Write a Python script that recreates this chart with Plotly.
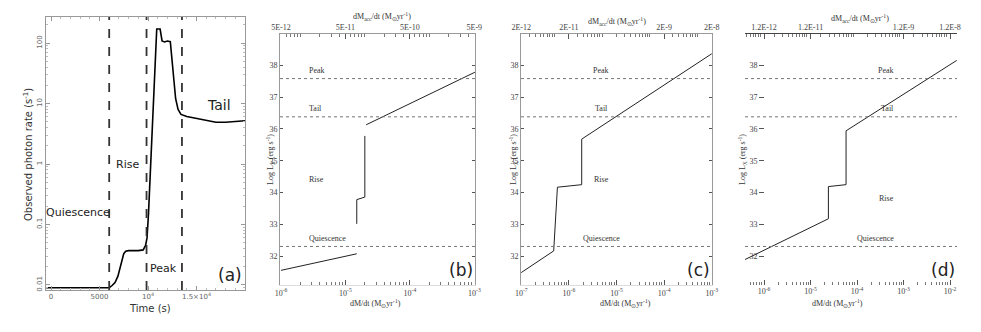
import math
import plotly.graph_objects as go

# ---- panel (a): light curve ----
time_s = [-500, 6000, 6300, 6600, 6900, 7100, 7300, 7500, 7700, 8000, 9000, 9500,
          9750, 9900, 10050, 10200, 10400, 10600, 10750, 10900, 11250, 11450, 11700,
          12000, 12300, 12450, 12650, 12850, 13100, 13400, 14000, 15000, 16000,
          17000, 18000, 19000, 20000]
rate = [0.009, 0.009, 0.0098, 0.011, 0.014, 0.019, 0.026, 0.033, 0.036, 0.037, 0.037,
        0.038, 0.045, 0.06, 0.15, 0.5, 2.5, 15, 60, 170, 170, 108, 104, 108, 105, 60,
        25, 12, 8, 6.6, 6.1, 5.7, 5.2, 4.9, 4.9, 5.1, 5.2]
phase_bounds = [6000, 9850, 13500]
a_xticks = [0, 5000, 10000, 15000]
a_xticktext = ["0", "5000", "10<sup>4</sup>", "1.5×10<sup>4</sup>"]
a_yticks = [0.01, 0.1, 1, 10, 100]
a_yticktext = ["0.01", "0.1", "1", "10", "100"]
# phase labels of panel (a): text, time, rate, font size
a_labels = [("Quiescence", 2780, 0.16, 11), ("Rise", 7840, 1.0, 11),
            ("Peak", 11550, 0.019, 11), ("Tail", 17300, 9.5, 14)]

# ---- panels (b)-(d): L_X vs mass-transfer rate ----
peak_level, tail_level, quies_level = 37.58, 36.38, 32.31
logl_ticks = [32, 33, 34, 35, 36, 37, 38]

b_mdot = [1e-6, 1.5e-5, None, 1.5e-5, 1.5e-5, 2.0e-5, 2.0e-5, None, 2.1e-5, 1.02e-3]
b_logl = [31.56, 32.08, None, 33.02, 33.78, 33.86, 35.78, None, 36.13, 37.78]
b_bottom = ([1e-6, 1e-5, 1e-4, 1e-3], ["10<sup>-6</sup>", "10<sup>-5</sup>", "10<sup>-4</sup>", "10<sup>-3</sup>"])
b_top = ([5e-12, 5e-11, 5e-10, 5e-9], ["5E-12", "5E-11", "5E-10", "5E-9"])

c_mdot = [1e-7, 4.8e-7, 5.75e-7, 1.86e-6, 1.86e-6, 1e-3]
c_logl = [31.49, 32.17, 34.17, 34.25, 35.68, 38.36]
c_bottom = ([1e-7, 1e-6, 1e-5, 1e-4, 1e-3],
            ["10<sup>-7</sup>", "10<sup>-6</sup>", "10<sup>-5</sup>", "10<sup>-4</sup>", "10<sup>-3</sup>"])
c_top = ([2e-12, 2e-11, 2e-9, 2e-8], ["2E-12", "2E-11", "2E-9", "2E-8"])

d_mdot = [3.9e-7, 2.42e-5, 2.42e-5, 5.8e-5, 5.8e-5, 1.39e-2]
d_logl = [31.9, 33.18, 34.19, 34.25, 35.94, 38.15]
d_bottom = ([1e-6, 1e-5, 1e-4, 1e-3, 1e-2],
            ["10<sup>-6</sup>", "10<sup>-5</sup>", "10<sup>-4</sup>", "10<sup>-3</sup>", "10<sup>-2</sup>"])
d_top = ([1.2e-12, 1.2e-11, 1.2e-9, 1.2e-8], ["1.2E-12", "1.2E-11", "1.2E-9", "1.2E-8"])

W, H = 981, 332
SANS = "DejaVu Sans"
SERIF = "Liberation Serif"


def px_x(a, b):
    return [a / W, b / W]


def px_y(top, bot):
    return [1 - bot / H, 1 - top / H]


def label(text, x, y, size, family, rot=0, color="#333"):
    return dict(text=text, x=x / W, y=1 - y / H, xref="paper", yref="paper",
                xanchor="center", yanchor="middle", textangle=rot, showarrow=False,
                font=dict(family=family, size=size, color=color))


fig = go.Figure()

# panel (a)
fig.add_trace(go.Scatter(x=time_s, y=rate, mode="lines", xaxis="x", yaxis="y",
                         line=dict(color="black", width=1.6), showlegend=False))
for xb in phase_bounds:
    fig.add_shape(type="line", xref="x", yref="y domain", x0=xb, x1=xb, y0=0, y1=1,
                  line=dict(color="#333", width=1.8, dash="dash"))

tickfont_a = dict(family=SANS, size=7, color="#666")
fig.update_layout(
    xaxis=dict(domain=px_x(46, 245), anchor="y", range=[-515, 20000], automargin=False,
               tickvals=a_xticks, ticktext=a_xticktext, tickfont=tickfont_a,
               showline=True, linecolor="#999", mirror="ticks", ticks="inside",
               ticklen=4, tickcolor="#999", showgrid=False, zeroline=False,
               minor=dict(ticks="inside", ticklen=2, dtick=1000, tickcolor="#bbb")),
    yaxis=dict(domain=px_y(17, 290), anchor="x", type="log", range=[-2.083, 2.43],
               automargin=False, tickvals=a_yticks, ticktext=a_yticktext,
               tickfont=tickfont_a, tickangle=-90, showline=True, linecolor="#999",
               mirror="ticks", ticks="inside", ticklen=4, tickcolor="#999",
               showgrid=False,
               minor=dict(ticks="inside", ticklen=2, dtick="D1", tickcolor="#bbb")),
)

ann = []
for txt, x, y, size in a_labels:
    ann.append(dict(text=txt, x=x, y=math.log10(y), xref="x", yref="y",
                    showarrow=False, font=dict(family=SANS, size=size, color="#222")))
ann.append(dict(text="(a)", x=0.995, y=0.01, xref="x domain", yref="y domain",
                xanchor="right", yanchor="bottom", showarrow=False,
                font=dict(family=SANS, size=17, color="#222")))
ann.append(label("Observed photon rate (s<sup>-1</sup>)", 28, 155, 10, SANS, rot=-90))
ann.append(label("Time (s)", 150, 308, 10, SANS))

# panels (b), (c), (d)
tickfont_s = dict(family=SERIF, size=8, color="#444")
panels = [
    # label, bottom x, top x, y, px domain, bottom range, top shift, data, ticks,
    # phase-label x, rise y, framed, title positions (y-title x, x-title x, top-title x, top-title y)
    ("(b)", 2, 3, 2, (280, 475), [-6.015, -2.99], -5.301, b_mdot, b_logl, b_bottom, b_top,
     0.14, 34.4, True, (270, 375, 382, 17)),
    ("(c)", 4, 5, 3, (521, 712), [-7.005, -2.995], -4.699, c_mdot, c_logl, c_bottom, c_top,
     0.42, 34.4, True, (513, 625, 617, 21)),
    ("(d)", 6, 7, 4, (745, 957), [-6.41, -1.85], -5.921, d_mdot, d_logl, d_bottom, d_top,
     0.71, 33.8, False, (742, 837, 860, 18)),
]

for (lab, xb, xt, yi, dom, xr, shift, xs, ys, bt, tt, labx, risey, framed, tpos) in panels:
    xbn, xtn, yn = f"x{xb}", f"x{xt}", f"y{yi}"
    fig.add_trace(go.Scatter(x=xs, y=ys, mode="lines", xaxis=xbn, yaxis=yn,
                             line=dict(color="#222", width=1), showlegend=False,
                             connectgaps=False))
    d = px_x(*dom)
    yaxis = dict(domain=px_y(34, 285), range=[31.1, 38.98], tickvals=logl_ticks,
                 automargin=False, tickfont=tickfont_s,
                 ticks="inside" if framed else "outside", ticklen=3 if framed else 5,
                 tickcolor="#555", showgrid=False, zeroline=False, showline=framed,
                 linecolor="#999", mirror="ticks")
    if framed:
        yaxis["anchor"] = xbn
    else:
        yaxis["anchor"] = "free"
        yaxis["position"] = 764 / W
    fig.layout[f"yaxis{yi}"] = yaxis
    fig.layout[f"xaxis{xb}"] = dict(
        domain=d, anchor=yn, type="log", range=xr, tickvals=bt[0], ticktext=bt[1],
        automargin=False, tickfont=tickfont_s, ticks="inside", ticklen=5,
        tickcolor="#555", showline=framed, linecolor="#ddd", showgrid=False,
        zeroline=False,
        minor=dict(ticks="inside", ticklen=3, dtick="D1", tickcolor="#777"))
    fig.layout[f"xaxis{xt}"] = dict(
        domain=d, anchor=yn, overlaying=xbn, side="top", type="log",
        range=[xr[0] + shift, xr[1] + shift], tickvals=tt[0], ticktext=tt[1],
        automargin=False, tickfont=tickfont_s, ticks="inside", ticklen=5,
        tickcolor="#555", showline=True, linecolor="#999" if framed else "#444",
        showgrid=False, zeroline=False,
        minor=dict(ticks="inside", ticklen=3, dtick="D1", tickcolor="#777"))
    fig.add_trace(go.Scatter(x=[None], y=[None], xaxis=xtn, yaxis=yn, showlegend=False,
                             hoverinfo="skip"))

    ytx, xtx, ttx, tty = tpos
    ann.append(label("Log L<sub>X</sub> (erg s<sup>-1</sup>)", ytx, 160, 8, SERIF, rot=-90))
    ann.append(label("dM/dt (M<sub>⊙</sub>yr<sup>-1</sup>)", xtx, 303, 8, SERIF))
    ann.append(label("dM<sub>acc</sub>/dt (M<sub>⊙</sub>yr<sup>-1</sup>)", ttx, tty, 8, SERIF))

    for lvl, name in [(peak_level, "Peak"), (tail_level, "Tail"), (quies_level, "Quiescence")]:
        fig.add_shape(type="line", xref=f"{xbn} domain", yref=yn, x0=0, x1=1, y0=lvl, y1=lvl,
                      line=dict(color="#777", width=1, dash="dot"))
        ann.append(dict(text=name, x=labx, y=lvl, xref=f"{xbn} domain", yref=yn,
                        yshift=8, showarrow=False, font=dict(family=SERIF, size=8, color="#333")))
    ann.append(dict(text="Rise", x=labx, y=risey, xref=f"{xbn} domain", yref=yn,
                    showarrow=False, font=dict(family=SERIF, size=8, color="#333")))
    ann.append(dict(text=lab, x=1.0, y=0.01, xref=f"{xbn} domain", yref=f"{yn} domain",
                    xanchor="right", yanchor="bottom", showarrow=False,
                    font=dict(family=SANS, size=17, color="#222")))

fig.update_layout(
    width=W, height=H, margin=dict(l=0, r=0, t=0, b=0, autoexpand=False),
    paper_bgcolor="white", plot_bgcolor="white", showlegend=False,
    hovermode=False, annotations=ann,
)

# drop the browser's default 8px body margin so the figure sits at the page corner
fig.write_html("out.html", config={"displayModeBar": False},
               post_script="document.body.style.margin='0';")
